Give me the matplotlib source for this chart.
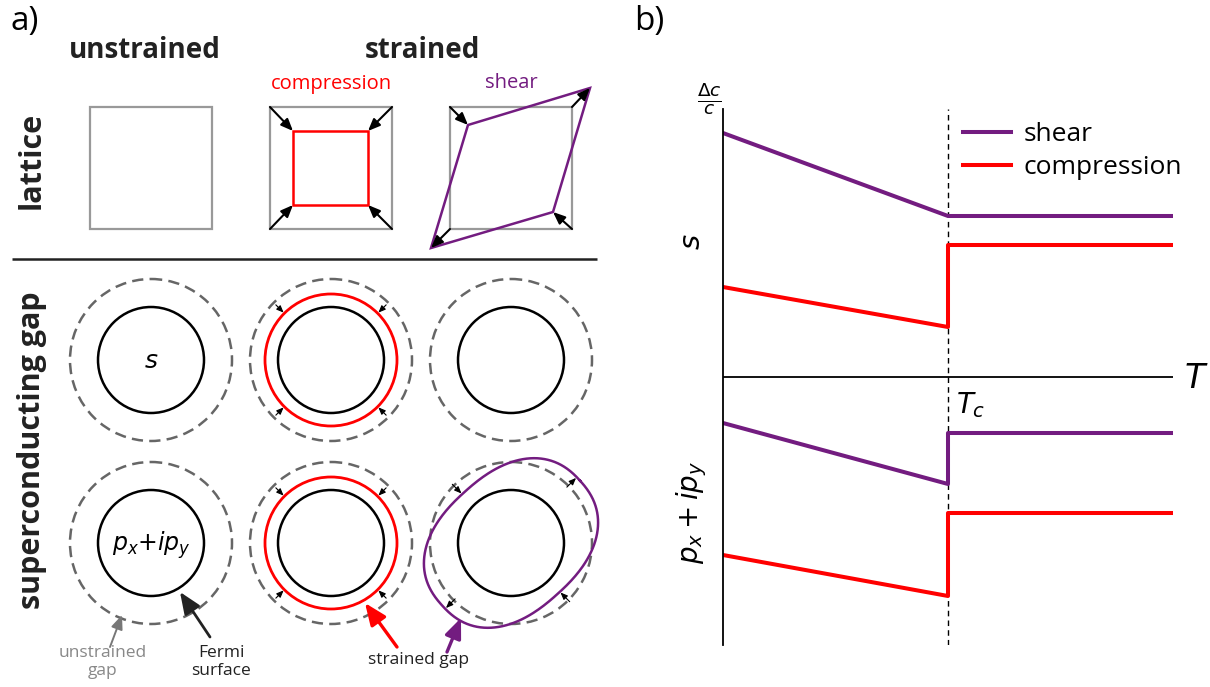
import numpy as np
import matplotlib.pyplot as plt
from matplotlib.patches import Circle, Rectangle, Polygon

plt.rcParams['font.family'] = ['Open Sans', 'DejaVu Sans']

# Delta c / c vs temperature (T in units where Tc = 1)
Tc = 1.0
T_s_shear = [0.0, 1.0, 2.0]
dc_s_shear = [2.44, 1.61, 1.61]
T_s_comp = [0.0, 1.0, 1.0, 2.0]
dc_s_comp = [0.90, 0.50, 1.32, 1.32]
T_p_shear = [0.0, 1.0, 1.0, 2.0]
dc_p_shear = [-0.46, -1.07, -0.56, -0.56]
T_p_comp = [0.0, 1.0, 1.0, 2.0]
dc_p_comp = [-1.78, -2.19, -1.36, -1.36]
strain_labels = ['shear', 'compression']

PURPLE = '#731c80'
RED = '#ff0000'
GREY = '#999999'
DASH = '#666666'

fig = plt.figure(figsize=(12.1, 6.87), dpi=100)

# canvas in pixel units for the schematic panel
bg = fig.add_axes([0, 0, 1, 1])
bg.set_xlim(0, 1210)
bg.set_ylim(687, 0)
bg.axis('off')


def arrow(x0, y0, x1, y1, color='k', lw=1.5, ms=12):
    bg.annotate('', xy=(x1, y1), xytext=(x0, y0),
                arrowprops=dict(arrowstyle='-|>,head_length=0.6,head_width=0.25',
                                color=color, lw=lw, mutation_scale=ms,
                                shrinkA=0, shrinkB=0))


# ---- panel a: headings
bg.text(10, 5, 'a)', fontsize=24, ha='left', va='top')
bg.text(634, 5, 'b)', fontsize=24, ha='left', va='top')
bg.text(145, 58, 'unstrained', fontsize=20, fontweight='bold', ha='center', va='baseline', color='#222222')
bg.text(422, 58, 'strained', fontsize=20, fontweight='bold', ha='center', va='baseline', color='#222222')
bg.text(331, 89, 'compression', fontsize=14.5, color=RED, ha='center', va='baseline')
bg.text(511, 88, 'shear', fontsize=14.5, color=PURPLE, ha='center', va='baseline')
bg.text(32, 160, 'lattice', fontsize=22, fontweight='bold', rotation=90, ha='center', va='center', color='#222222')
bg.text(32, 450, 'superconducting gap', fontsize=22, fontweight='bold', rotation=90, ha='center', va='center', color='#222222')

# ---- lattice row
side = 122
for cx in (151, 331, 511):
    bg.add_patch(Rectangle((cx - side / 2, 107), side, side, fill=False, ec=GREY, lw=1.6))

# compressed cell
bg.add_patch(Rectangle((293, 131), 75, 74, fill=False, ec=RED, lw=1.8))
for (x0, y0), (x1, y1) in [((270, 107), (293, 131)), ((392, 107), (368, 131)),
                           ((270, 229), (293, 205)), ((392, 229), (368, 205))]:
    arrow(x0, y0, x1, y1)

# sheared cell
bg.add_patch(Polygon([(468, 125), (590, 88), (553, 212), (431, 248)], closed=True,
                     fill=False, ec=PURPLE, lw=1.8))
for (x0, y0), (x1, y1) in [((450, 107), (468, 125)), ((572, 107), (590, 88)),
                           ((572, 229), (553, 212)), ((450, 229), (431, 248))]:
    arrow(x0, y0, x1, y1)

bg.plot([12, 597], [259, 259], color='#222222', lw=1.8, solid_capstyle='butt')

# ---- gap rows
cols = [151, 331, 511]
rows = [360, 543]
r_fs, r_gap, r_comp = 53, 81, 66
for cy in rows:
    for cx in cols:
        bg.add_patch(Circle((cx, cy), r_gap, fill=False, ec=DASH, lw=1.8, ls=(0, (4.5, 2.5))))
        bg.add_patch(Circle((cx, cy), r_fs, fill=False, ec='k', lw=1.8))
    # compressed gap, shrunk uniformly
    bg.add_patch(Circle((cols[1], cy), r_comp, fill=False, ec=RED, lw=2.0))
    for ang in (45, 135, 225, 315):
        c, s = np.cos(np.radians(ang)), -np.sin(np.radians(ang))
        arrow(cols[1] + (r_gap - 3) * c, cy + (r_gap - 3) * s,
              cols[1] + (r_comp + 1) * c, cy + (r_comp + 1) * s, lw=0.8, ms=7)

# sheared p-wave gap: rounded oval stretched along the NE-SW diagonal
a_long, b_short, n_sq = 93, 69, 2.35
t = np.linspace(0, 2 * np.pi, 500)
u = a_long * np.sign(np.cos(t)) * np.abs(np.cos(t)) ** (2 / n_sq)
v = b_short * np.sign(np.sin(t)) * np.abs(np.sin(t)) ** (2 / n_sq)
phi = np.radians(42)
px = u * np.cos(phi) - v * np.sin(phi)
py = u * np.sin(phi) + v * np.cos(phi)
bg.plot(cols[2] + px, rows[1] - py, color=PURPLE, lw=1.8)
for ang, r_end in ((45, a_long), (225, a_long), (135, b_short), (315, b_short)):
    a = np.radians(ang)
    c, s = np.cos(a), -np.sin(a)
    step = np.sign(r_end - r_gap)
    arrow(cols[2] + (r_gap - 2 * step) * c, rows[1] + (r_gap - 2 * step) * s,
          cols[2] + (r_end - step) * c, rows[1] + (r_end - step) * s, lw=0.8, ms=7)

bg.text(cols[0], rows[0] + 2, '$s$', fontsize=18, ha='center', va='center')
bg.text(cols[0], rows[1] + 2, '$p_x{+}ip_y$', fontsize=17, ha='center', va='center')

# annotation arrows
arrow(210, 637, 180, 592, color='#222222', lw=2.0, ms=22)
arrow(110, 647, 122, 615, color='#777777', lw=1.4, ms=14)
arrow(397, 647, 365, 603, color=RED, lw=2.4, ms=22)
arrow(447, 652, 461, 618, color=PURPLE, lw=2.4, ms=20)
bg.text(221, 662, 'Fermi\nsurface', fontsize=12.5, ha='center', va='center', linespacing=1.2, color='#222222')
bg.text(103, 662, 'unstrained\ngap', fontsize=12.5, ha='center', va='center', linespacing=1.2, color='#888888')
bg.text(418, 660, 'strained gap', fontsize=12.5, ha='center', va='center', color='#222222')

# ---- panel b
ax = fig.add_axes([723 / 1210, 42 / 687, 450 / 1210, 536 / 687])
ax.set_xlim(0, 2)
ax.set_ylim(-2.68, 2.68)
ax.patch.set_alpha(0)
for side_name in ('top', 'right', 'bottom'):
    ax.spines[side_name].set_visible(False)
ax.spines['left'].set_linewidth(1.3)
ax.set_xticks([])
ax.set_yticks([])

ax.axhline(0, color='k', lw=1.3)
ax.axvline(Tc, color='k', lw=1.0, ls=(0, (4, 3)))

l_sh, = ax.plot(T_s_shear, dc_s_shear, color=PURPLE, lw=2.9, label=strain_labels[0])
l_co, = ax.plot(T_s_comp, dc_s_comp, color=RED, lw=2.9, label=strain_labels[1])
ax.plot(T_p_shear, dc_p_shear, color=PURPLE, lw=2.9)
ax.plot(T_p_comp, dc_p_comp, color=RED, lw=2.9)

ax.legend(handles=[l_sh, l_co], loc='upper left', bbox_to_anchor=(963, 122),
          bbox_transform=bg.transData, frameon=False, fontsize=19,
          handlelength=1.8, handletextpad=0.5, labelspacing=0.3,
          borderpad=0, borderaxespad=0)

bg.text(709, 99, r'$\frac{\Delta c}{c}$', fontsize=19, ha='center', va='center')
bg.text(1184, 379, '$T$', fontsize=24, ha='left', va='center')
bg.text(956, 390, '$T_c$', fontsize=20, ha='left', va='top')
bg.text(692, 242, '$s$', fontsize=21, rotation=90, ha='center', va='center')
bg.text(692, 512, '$p_x + ip_y$', fontsize=20, rotation=90, ha='center', va='center')

fig.savefig('out.png', dpi=100)
